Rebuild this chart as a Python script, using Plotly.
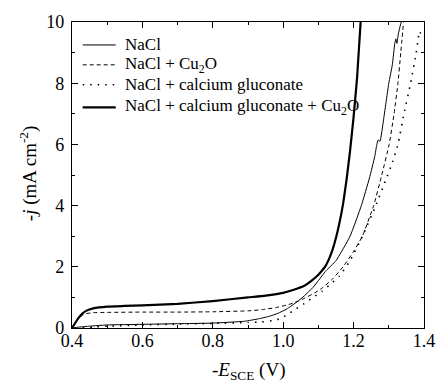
import plotly.graph_objects as go

# Polarisation curves: cathodic current density vs. potential
nacl_E = [0.40, 0.42, 0.45, 0.50, 0.60, 0.70, 0.80, 0.89, 0.93, 0.96, 0.985, 1.01, 1.04,
          1.06, 1.085, 1.10, 1.12, 1.15, 1.19, 1.222, 1.245, 1.26, 1.266, 1.270, 1.275,
          1.285, 1.30, 1.31, 1.317, 1.320, 1.323, 1.327, 1.333, 1.338]
nacl_j = [0.0, 0.03, 0.06, 0.10, 0.12, 0.14, 0.16, 0.22, 0.30, 0.38, 0.48, 0.62, 0.86,
          1.05, 1.33, 1.55, 1.85, 2.2, 3.0, 4.0, 4.9, 5.6, 6.0, 6.15, 6.1,
          6.8, 8.0, 8.6, 9.3, 9.45, 9.3, 9.6, 9.9, 10.1]

cu2o_E = [0.40, 0.41, 0.42, 0.43, 0.44, 0.46, 0.50, 0.60, 0.70, 0.80, 0.90, 0.94, 0.98,
          1.01, 1.03, 1.06, 1.09, 1.11, 1.14, 1.17, 1.20, 1.225, 1.257, 1.28, 1.301,
          1.315, 1.326, 1.334, 1.342]
cu2o_j = [0.0, 0.2, 0.33, 0.42, 0.47, 0.50, 0.51, 0.52, 0.52, 0.53, 0.56, 0.60, 0.67,
          0.75, 0.82, 0.97, 1.15, 1.3, 1.6, 2.0, 2.5, 3.0, 4.0, 5.0, 6.0,
          7.0, 8.0, 9.0, 10.0]

glu_E = [0.43, 0.46, 0.50, 0.60, 0.70, 0.80, 0.90, 0.94, 0.97, 0.99, 1.01, 1.03, 1.06,
         1.085, 1.11, 1.13, 1.16, 1.19, 1.225, 1.263, 1.29, 1.31, 1.326, 1.343, 1.362,
         1.378, 1.384, 1.388, 1.392]
glu_j = [0.0, 0.03, 0.06, 0.10, 0.13, 0.15, 0.18, 0.20, 0.24, 0.30, 0.42, 0.58, 0.80,
         1.0, 1.2, 1.39, 1.7, 2.2, 3.0, 4.0, 4.8, 5.4, 6.0, 7.0, 8.0,
         9.0, 9.5, 9.7, 9.55]

glu_cu2o_E = [0.40, 0.41, 0.42, 0.43, 0.44, 0.46, 0.50, 0.55, 0.60, 0.70, 0.80, 0.90, 0.95,
              1.00, 1.03, 1.06, 1.08, 1.10, 1.11, 1.12, 1.13, 1.14, 1.15, 1.16, 1.17,
              1.18, 1.19, 1.20, 1.21, 1.22]
glu_cu2o_j = [0.0, 0.18, 0.35, 0.48, 0.56, 0.64, 0.70, 0.72, 0.74, 0.79, 0.88, 1.00, 1.06,
              1.15, 1.25, 1.38, 1.54, 1.74, 1.87, 2.02, 2.25, 2.55, 2.95, 3.45, 4.05,
              4.85, 5.8, 6.9, 8.2, 10.0]

series_names = ["NaCl", "NaCl + Cu<sub>2</sub>O", "NaCl + calcium gluconate",
                "NaCl + calcium gluconate + Cu<sub>2</sub>O"]

x_ticks = [0.4, 0.6, 0.8, 1.0, 1.2, 1.4]
x_tick_text = ["0.4", "0.6", "0.8", "1.0", "1.2", "1.4"]
y_ticks = [0, 2, 4, 6, 8, 10]

FONT = "Liberation Serif"

styles = [
    dict(width=1.0, dash="solid"),
    dict(width=1.0, dash="4px,3px"),
    dict(width=1.6, dash="1.5px,6px"),
    dict(width=2.2, dash="solid"),
]
data = [(nacl_E, nacl_j), (cu2o_E, cu2o_j), (glu_E, glu_j), (glu_cu2o_E, glu_cu2o_j)]

fig = go.Figure()
for (xs, ys), name, st in zip(data, series_names, styles):
    fig.add_trace(go.Scatter(
        x=xs, y=ys, name=name, mode="lines", showlegend=False,
        line=dict(color="black", width=st["width"], dash=st["dash"],
                  shape="spline", smoothing=0.4),
    ))

# Legend drawn as key lines and labels in the upper-left corner of the frame
legend_rows = [0.925, 0.860, 0.795, 0.721]
shapes = []
annotations = []
for (name, st, yr) in zip(series_names, styles, legend_rows):
    shapes.append(dict(type="line", xref="paper", yref="paper",
                       x0=0.0304, x1=0.1243, y0=yr, y1=yr,
                       line=dict(color="black", width=st["width"], dash=st["dash"])))
    annotations.append(dict(text=name, xref="paper", yref="paper",
                            x=0.1436, y=yr, xanchor="left", yanchor="middle",
                            showarrow=False,
                            font=dict(family=FONT, size=17, color="black")))

fig.update_xaxes(range=[0.4, 1.4], tickvals=x_ticks, ticktext=x_tick_text,
                 tickfont=dict(family=FONT, size=18, color="black"),
                 ticklabelstandoff=-4)
fig.update_yaxes(range=[0, 10], tickvals=y_ticks,
                 tickfont=dict(family=FONT, size=18, color="black"),
                 ticklabelstandoff=3)
for ax, step in ((fig.layout.xaxis, 0.1), (fig.layout.yaxis, 1)):
    ax.update(showline=True, linecolor="black", linewidth=1.2, mirror="ticks",
              ticks="inside", ticklen=6, tickwidth=1, tickcolor="black",
              showgrid=False, zeroline=False,
              minor=dict(dtick=step, ticks="inside", ticklen=3,
                         tickcolor="black", showgrid=False))
fig.layout.xaxis.minor.tick0 = 0.4
fig.layout.yaxis.minor.tick0 = 0

annotations += [
    dict(text="-<i>E</i><sub>SCE</sub> (V)", xref="paper", yref="paper",
         x=0.5, y=-0.141, xanchor="center", yanchor="middle",
         showarrow=False, font=dict(family=FONT, size=19, color="black")),
    dict(text="-<i>j</i> (mA cm<sup>-2</sup>)", xref="paper", yref="paper",
         x=-0.125, y=0.506, xanchor="center", yanchor="middle",
         textangle=-90, showarrow=False, font=dict(family=FONT, size=19, color="black")),
]

fig.update_layout(
    width=447, height=381,
    margin=dict(l=72, r=13, t=20, b=53),
    paper_bgcolor="white", plot_bgcolor="white",
    shapes=shapes,
    annotations=annotations,
)

fig.write_html("out.html")
